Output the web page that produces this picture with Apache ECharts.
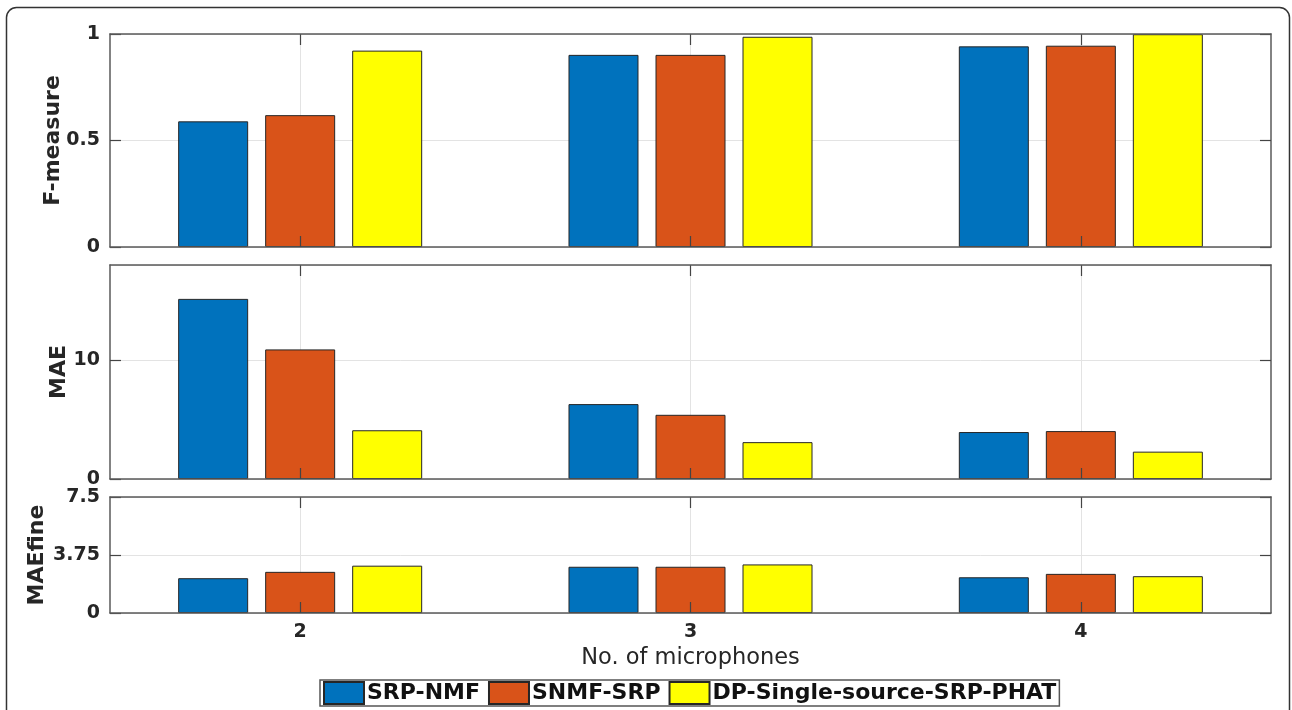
<!DOCTYPE html>
<html>
<head>
<meta charset="utf-8">
<script src="https://cdn.jsdelivr.net/npm/echarts@6/dist/echarts.min.js"></script>
<style>
  html, body { margin: 0; padding: 0; background: #fff; }
  #chart { width: 1292px; height: 710px; }
</style>
</head>
<body>
<div id="chart"></div>
<script>
// Number of microphones (x categories)
const categories = ['2', '3', '4'];
const seriesNames = ['SRP-NMF', 'SNMF-SRP', 'DP-Single-source-SRP-PHAT'];
const seriesColors = ['#0072BD', '#D95319', '#FFFF00'];

// F-measure per method
const fSrpNmf = [0.59, 0.902, 0.942];
const fSnmfSrp = [0.619, 0.902, 0.945];
const fDp = [0.922, 0.987, 0.999];

// MAE per method
const maeSrpNmf = [15.15, 6.3, 3.95];
const maeSnmfSrp = [10.9, 5.4, 4.03];
const maeDp = [4.1, 3.1, 2.3];

// Fine MAE per method
const fineSrpNmf = [2.25, 2.99, 2.31];
const fineSnmfSrp = [2.66, 2.99, 2.53];
const fineDp = [3.06, 3.14, 2.38];

// Y-axis tick settings per panel
const fTicks = { min: 0, max: 1, interval: 0.5 };
const maeTicks = { min: 0, max: 18, interval: 10 };
const fineTicks = { min: 0, max: 7.5, interval: 3.75 };

const panelValues = [
  [fSrpNmf, fSnmfSrp, fDp],
  [maeSrpNmf, maeSnmfSrp, maeDp],
  [fineSrpNmf, fineSnmfSrp, fineDp]
];
const panelTicks = [fTicks, maeTicks, fineTicks];
const panelNames = ['F-measure', 'MAE', 'MAEfine'];
const panelNameGaps = [46, 40, 62];

const FONT = 'DejaVu Sans';
const TXT = '#262626';
const AXIS = '#5a5a5a';
const TICK = '#444';
const GRIDLINE = '#e3e3e3';

// vertical placement of the three stacked panels
const panelRows = [
  { top: 34, height: 213 },
  { top: 265, height: 214 },
  { top: 497, height: 116 }
];
// the axes box is a little narrower than the x range used for the bars
const BOX = { left: 110, width: 1161 };
const XRANGE = { left: 105, width: 1171 };

// half-step category list so gridlines/ticks land on bar-group centres
const halfSteps = ['', '2', '', '3', '', '4', ''];
const oddOnly = (i) => i % 2 === 1;

const grids = [];
const xAxes = [];
const yAxes = [];
const series = [];

panelRows.forEach((row, p) => {
  const isLast = p === panelRows.length - 1;
  const t = panelTicks[p];
  const boxGrid = grids.length;
  grids.push({ left: BOX.left, width: BOX.width, top: row.top, height: row.height });
  const dataGrid = grids.length;
  grids.push({ left: XRANGE.left, width: XRANGE.width, top: row.top, height: row.height });

  // ---- axes box: frame lines, y ticks, y labels, horizontal gridlines
  ['bottom', 'top'].forEach((pos) => {
    xAxes.push({
      type: 'category', gridIndex: boxGrid, position: pos, data: categories, z: 4,
      axisLine: { show: true, onZero: false, lineStyle: { color: AXIS, width: 1.5 } },
      axisTick: { show: false }, axisLabel: { show: false }, splitLine: { show: false }
    });
  });
  yAxes.push({
    type: 'value', gridIndex: boxGrid, position: 'left',
    min: t.min, max: t.max, interval: t.interval,
    axisLine: { show: true, onZero: false, lineStyle: { color: AXIS, width: 1.5 } },
    axisTick: { show: true, inside: true, length: 11, lineStyle: { color: TICK, width: 1.2 } },
    axisLabel: { show: true, margin: 10, showMaxLabel: p !== 1, color: TXT, fontFamily: FONT, fontWeight: 'bold', fontSize: 19 },
    splitLine: { show: true, lineStyle: { color: GRIDLINE, width: 1 } },
    name: panelNames[p], nameLocation: 'middle', nameGap: panelNameGaps[p], nameRotate: 90,
    nameMoveOverlap: false,
    nameTextStyle: { color: TXT, fontFamily: FONT, fontWeight: 'bold', fontSize: 22 }
  });
  yAxes.push({
    type: 'value', gridIndex: boxGrid, position: 'right',
    min: t.min, max: t.max, interval: t.interval,
    axisLine: { show: true, onZero: false, lineStyle: { color: AXIS, width: 1.5 } },
    axisTick: { show: true, inside: true, length: 11, lineStyle: { color: TICK, width: 1.2 } },
    axisLabel: { show: false }, splitLine: { show: false }
  });

  // ---- data grid: bars, x ticks, x labels, vertical gridlines
  const barX = xAxes.length;
  xAxes.push({
    type: 'category', gridIndex: dataGrid, position: 'bottom', data: categories,
    boundaryGap: true, z: 5,
    axisLine: { show: false, onZero: false },
    axisTick: { show: true, inside: true, length: 11, alignWithLabel: true, lineStyle: { color: TICK, width: 1.2 } },
    axisLabel: { show: isLast, margin: 10, color: TXT, fontFamily: FONT, fontWeight: 'bold', fontSize: 19 },
    splitLine: { show: false },
    name: isLast ? 'No. of microphones' : '',
    nameLocation: 'middle', nameGap: 34,
    nameTextStyle: { color: TXT, fontFamily: FONT, fontSize: 22.5 }
  });
  xAxes.push({
    type: 'category', gridIndex: dataGrid, position: 'top', data: halfSteps,
    boundaryGap: false,
    axisLine: { show: false, onZero: false },
    axisTick: { show: true, inside: true, length: 11, interval: oddOnly, lineStyle: { color: TICK, width: 1.2 } },
    axisLabel: { show: false },
    splitLine: { show: true, interval: oddOnly, lineStyle: { color: GRIDLINE, width: 1 } }
  });
  const barY = yAxes.length;
  yAxes.push({
    type: 'value', gridIndex: dataGrid, show: false,
    min: t.min, max: t.max, interval: t.interval,
    splitLine: { show: false }
  });

  panelValues[p].forEach((vals, s) => {
    series.push({
      type: 'bar', name: seriesNames[s],
      xAxisIndex: barX, yAxisIndex: barY,
      data: vals,
      barWidth: 70, barGap: '24.3%',
      itemStyle: { color: seriesColors[s], borderColor: '#262626', borderWidth: 1 },
      emphasis: { disabled: true },
      animation: false
    });
  });
});

const chart = echarts.init(document.getElementById('chart'), null, { renderer: 'canvas' });
chart.setOption({
  animation: false,
  backgroundColor: '#ffffff',
  grid: grids,
  xAxis: xAxes,
  yAxis: yAxes,
  series: series,
  legend: {
    data: seriesNames,
    left: 320, top: 680,
    orient: 'horizontal',
    icon: 'rect',
    itemWidth: 40, itemHeight: 22, itemGap: 8,
    padding: [1, 3, 1, 3],
    borderColor: '#555', borderWidth: 1.5,
    selectedMode: false,
    textStyle: { color: '#111', fontFamily: FONT, fontWeight: 'bold', fontSize: 22, lineHeight: 24, padding: [0, 0, 0, -2] }
  },
  graphic: [{
    type: 'rect', silent: true, z: -1,
    shape: { x: 6.5, y: 7.5, width: 1283, height: 730, r: 10 },
    style: { fill: 'none', stroke: '#333', lineWidth: 1.5 }
  }]
});
</script>
</body>
</html>
